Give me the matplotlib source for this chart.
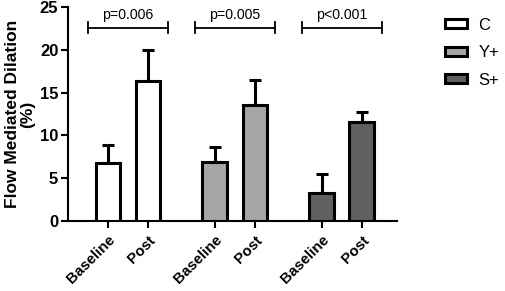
import matplotlib
matplotlib.use("Agg")
import matplotlib.pyplot as plt
from matplotlib.patches import Patch
import numpy as np

plt.rcParams['font.family'] = ['Liberation Sans', 'DejaVu Sans']

groups = ["C", "Y+", "S+"]
timepoints = ["Baseline", "Post"]
means = [[6.8, 16.4], [6.9, 13.6], [3.3, 11.6]]
errs = [[2.1, 3.6], [1.8, 2.9], [2.2, 1.15]]
p_labels = ["p=0.006", "p=0.005", "p<0.001"]
colors = ["#ffffff", "#a6a6a6", "#606060"]

fig = plt.figure(figsize=(5.05, 2.91), dpi=100)
ax = fig.add_axes([68/505, 1-221/291, (397-68)/505, (221-7)/291])

group_gap = 2.67
width = 0.62
xt, xl = [], []
for gi, g in enumerate(groups):
    base = gi * group_gap
    xs = np.array([base, base + 1])
    ax.bar(xs, means[gi], width=width, color=colors[gi], edgecolor="black",
           linewidth=2.2, zorder=3, label=g)
    ax.errorbar(xs, means[gi], yerr=[[0, 0], errs[gi]], fmt="none",
                ecolor="black", elinewidth=2.2, capsize=4, capthick=2.2, zorder=2)
    xt += list(xs)
    xl += timepoints
    # bracket
    c = base + 0.5
    yb = 22.6
    ax.plot([c-1, c+1], [yb, yb], color="black", lw=1.3, clip_on=False)
    ax.plot([c-1, c-1], [yb-0.6, yb+0.6], color="black", lw=1.3, clip_on=False)
    ax.plot([c+1, c+1], [yb-0.6, yb+0.6], color="black", lw=1.3, clip_on=False)
    ax.text(c, 23.3, p_labels[gi], ha="center", va="bottom", fontsize=10.2)

ax.set_xlim(-1.0, 7.22)
ax.set_ylim(0, 25)
ax.set_yticks([0, 5, 10, 15, 20, 25])
ax.set_xticks(xt)
ax.set_xticklabels(xl, rotation=45, ha="right", rotation_mode="anchor",
                   fontweight="bold", fontsize=10.8)
for lab in ax.get_yticklabels():
    lab.set_fontweight("bold")
    lab.set_fontsize(12)
ax.tick_params(axis="both", width=1.5, length=5, color="black")
ax.tick_params(axis="y", pad=2)
ax.spines["top"].set_visible(False)
ax.spines["right"].set_visible(False)
for s in ["left", "bottom"]:
    ax.spines[s].set_linewidth(1.5)
ax.set_ylabel("Flow Mediated Dilation\n(%)", fontweight="bold", fontsize=12.5,
              linespacing=1.05, labelpad=3)

handles = [Patch(facecolor=colors[i], edgecolor="black", linewidth=2.2) for i in range(3)]
fig.legend(handles, groups, loc="upper left", bbox_to_anchor=(0.852, 0.99),
           frameon=False, fontsize=12, handlelength=1.32, handleheight=0.45,
           labelspacing=0.74, handletextpad=0.68)

fig.savefig("out.png", dpi=100)
